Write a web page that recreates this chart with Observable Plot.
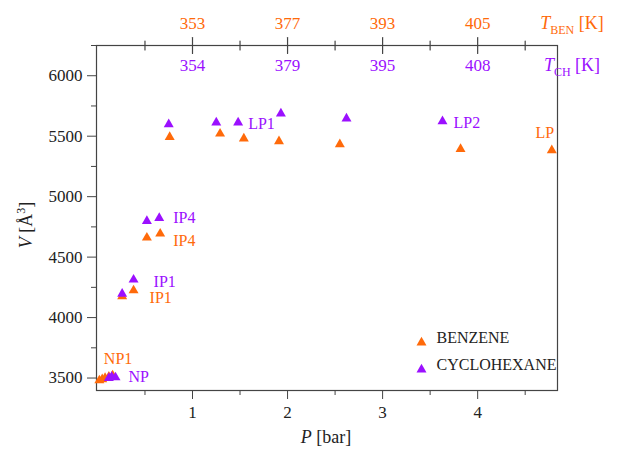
<!DOCTYPE html>
<html>
<head>
<meta charset="utf-8">
<script src="https://cdn.jsdelivr.net/npm/d3@7"></script>
<script src="https://cdn.jsdelivr.net/npm/@observablehq/plot@0.6"></script>
<style>
  body { margin: 0; background: #fff; }
  #chart svg { display: block; }
  #chart svg, #chart svg text { font-family: "Liberation Serif", "Times New Roman", Times, "DejaVu Serif", serif; }
</style>
</head>
<body>
<div id="chart"></div>
<script>
// Unit-cell volume V [Å^3] against pressure P [bar]
const benzeneP = [0.02, 0.05, 0.08, 0.12, 0.16, 0.26, 0.38, 0.52, 0.66, 0.76, 1.29, 1.54, 1.91, 2.55, 3.82, 4.78];
const benzeneV = [3480, 3490, 3500, 3510, 3520, 4175, 4224, 4661, 4694, 5493, 5521, 5480, 5458, 5433, 5394, 5383];

const cyclohexaneP = [0.12, 0.15, 0.19, 0.26, 0.38, 0.52, 0.65, 0.75, 1.25, 1.48, 1.93, 2.62, 3.63];
const cyclohexaneV = [3500, 3510, 3505, 4197, 4313, 4798, 4823, 5598, 5613, 5613, 5687, 5646, 5623];

// Phase labels and the index of the point each one names
const benzeneLabels = ["NP1", "IP1", "IP4", "LP"];
const benzeneLabelAt = [3, 6, 8, 15];
const cyclohexaneLabels = ["NP", "IP1", "IP4", "LP1", "LP2"];
const cyclohexaneLabelAt = [2, 4, 6, 9, 12];

// Axis ticks
const xTicks = [1, 2, 3, 4];
const xMinorTicks = [0.5, 1.5, 2.5, 3.5, 4.5];
const yTicks = [3500, 4000, 4500, 5000, 5500, 6000];
const yMinorTicks = [3750, 4250, 4750, 5250, 5750, 6250];
const tBenLabels = ["353", "377", "393", "405"];
const tChLabels = ["354", "379", "395", "408"];

const legendNames = ["BENZENE", "CYCLOHEXANE"];

const ORANGE = "#ff6a0a";
const PURPLE = "#9b10ff";
const AXIS = "#444";
const FONT = "Liberation Serif, Times New Roman, Times, DejaVu Serif, serif";

const benzene = benzeneP.map((p, i) => ({P: p, V: benzeneV[i]}));
const cyclohexane = cyclohexaneP.map((p, i) => ({P: p, V: cyclohexaneV[i]}));

// label offsets (px) from the point they name
const benzeneOffsets = [[-5, -18, "start"], [16, 7, "start"], [13, 7, "start"], [-7, -17, "middle"]];
const cyclohexaneOffsets = [[13, -1, "start"], [20, 2, "start"], [14, 0, "start"], [10, 1, "start"], [11, 2, "start"]];

function labelMarks(series, names, at, offsets, color) {
  return names.map((name, k) => {
    const [dx, dy, anchor] = offsets[k];
    return Plot.text([series[at[k]]], {
      x: "P", y: "V", text: () => name, dx, dy,
      textAnchor: anchor, fill: color, fontSize: 16
    });
  });
}

// a straight tick line centred on the anchor point
const crossTick = {
  draw(context, l) {
    context.moveTo(0, -l / 2);
    context.lineTo(0, l / 2);
  }
};

const plot = Plot.plot({
  width: 641,
  height: 451,
  marginLeft: 96,
  marginRight: 84,
  marginTop: 45,
  marginBottom: 61,
  style: {fontFamily: FONT, fontSize: "17px", color: "#222", background: "#fff"},
  x: {domain: [-0.01, 4.84]},
  y: {domain: [3397, 6250]},
  marks: [
    // bottom axis
    Plot.axisX({ticks: xTicks, tickSize: 9, tickPadding: 6, tickFormat: d3.format("d"), label: null, stroke: AXIS, fill: "#222", fontSize: 17}),
    Plot.axisX({ticks: xMinorTicks, tickSize: 5, text: null, label: null, stroke: AXIS}),
    // left axis
    Plot.axisY({ticks: yTicks, tickSize: 9, tickPadding: 5, tickFormat: d3.format("d"), label: null, stroke: AXIS, fill: "#222", fontSize: 17}),
    Plot.axisY({ticks: yMinorTicks, tickSize: 5, text: null, label: null, stroke: AXIS}),
    Plot.frame({stroke: AXIS, strokeWidth: 1.2}),
    // top temperature axis: ticks crossing the frame
    Plot.vector(xTicks, {x: d => d, frameAnchor: "top", length: 16, shape: crossTick, anchor: "start", stroke: AXIS, strokeWidth: 1.2}),
    Plot.vector(xMinorTicks, {x: d => d, frameAnchor: "top", length: 9, shape: crossTick, anchor: "start", stroke: AXIS, strokeWidth: 1.2}),
    Plot.text(xTicks, {x: d => d, frameAnchor: "top", text: (d, i) => tBenLabels[i], dy: -29, fill: ORANGE, fontSize: 17}),
    Plot.text(xTicks, {x: d => d, frameAnchor: "top", text: (d, i) => tChLabels[i], dy: 13, fill: PURPLE, fontSize: 17}),
    // data
    Plot.dot(benzene, {x: "P", y: "V", symbol: "triangle", r: 3.7, fill: ORANGE}),
    Plot.dot(cyclohexane, {x: "P", y: "V", symbol: "triangle", r: 3.7, fill: PURPLE}),
    ...labelMarks(benzene, benzeneLabels, benzeneLabelAt, benzeneOffsets, ORANGE),
    ...labelMarks(cyclohexane, cyclohexaneLabels, cyclohexaneLabelAt, cyclohexaneOffsets, PURPLE),
    // legend
    Plot.dot([legendNames[0]], {frameAnchor: "bottom-right", dx: -136, dy: -48, symbol: "triangle", r: 3.7, fill: ORANGE}),
    Plot.dot([legendNames[1]], {frameAnchor: "bottom-right", dx: -136, dy: -21, symbol: "triangle", r: 3.7, fill: PURPLE}),
    Plot.text([legendNames[0]], {frameAnchor: "bottom-right", text: d => d, dx: -121, dy: -48, textAnchor: "start", fill: "#222", fontSize: 16}),
    Plot.text([legendNames[1]], {frameAnchor: "bottom-right", text: d => d, dx: -121, dy: -21, textAnchor: "start", fill: "#222", fontSize: 16})
  ]
});

document.getElementById("chart").appendChild(plot);

// axis titles with italic symbols, sub- and superscripts
const svg = d3.select(plot);

const xTitle = svg.append("text")
  .attr("x", 326).attr("y", 443).attr("text-anchor", "middle")
  .attr("font-size", 18).attr("fill", "#222");
xTitle.append("tspan").attr("font-style", "italic").text("P");
xTitle.append("tspan").text(" [bar]");

const yTitle = svg.append("text")
  .attr("transform", "translate(32,225) rotate(-90)").attr("text-anchor", "middle")
  .attr("font-size", 18).attr("fill", "#222");
yTitle.append("tspan").attr("font-style", "italic").text("V");
yTitle.append("tspan").text(" [Å");
yTitle.append("tspan").attr("font-size", 12).attr("dy", -7).text("3");
yTitle.append("tspan").attr("dy", 7).text("]");

function tempTitle(y, sub, color) {
  const t = svg.append("text")
    .attr("x", 572).attr("y", y)
    .attr("font-size", 18).attr("fill", color);
  t.append("tspan").attr("font-style", "italic").text("T");
  t.append("tspan").attr("font-size", 12).attr("dy", 5).text(sub);
  t.append("tspan").attr("dy", -5).text(" [K]");
}
tempTitle(29, "BEN", ORANGE);
tempTitle(71, "CH", PURPLE);
</script>
</body>
</html>
